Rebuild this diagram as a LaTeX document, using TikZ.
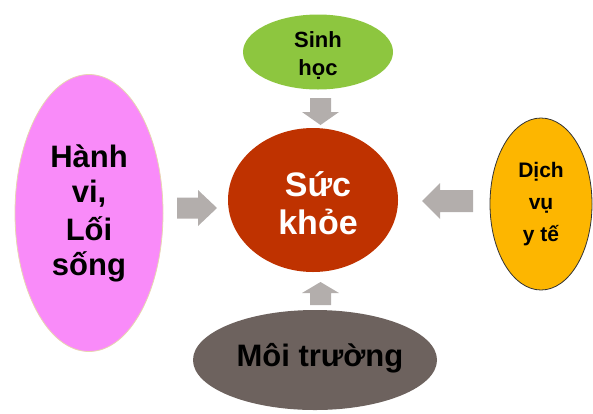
\documentclass[tikz,border=0pt]{standalone}
\usepackage{fontspec}
\setmainfont{Liberation Sans}
\usetikzlibrary{shapes.geometric}
\definecolor{redc}{HTML}{BF3200}
\definecolor{greenc}{HTML}{8DC63F}
\definecolor{pinkc}{HTML}{F98BF9}
\definecolor{orangec}{HTML}{FDB600}
\definecolor{brownc}{HTML}{6D625E}
\definecolor{arrowc}{HTML}{B3AEAC}
\definecolor{beige}{HTML}{E8D5B0}
\tikzset{
  ell/.style={ellipse, inner sep=0pt, align=center, font=\bfseries},
  txt/.style={inner sep=0pt, align=center},
  blockarrow/.style={fill=arrowc, draw=none}
}
\begin{document}
\begin{tikzpicture}[x=1pt,y=-1pt]
\useasboundingbox (0,0) rectangle (593,413);
\node[ell, fill=redc, minimum width=170pt, minimum height=144pt] (health) at (313,200) {};
\node[txt, text=white, font=\bfseries\fontsize{34}{38}\selectfont] (healthtxt) at (318,203) {Sức\\khỏe};
\node[ell, fill=greenc, minimum width=150pt, minimum height=75pt] (bio) at (318,52) {};
\node[txt, font=\bfseries\fontsize{22}{28}\selectfont] (biotxt) at (318,55) {Sinh\\học};
\node[ell, fill=pinkc, draw=beige, line width=0.8pt, minimum width=148pt, minimum height=277pt] (life) at (89,213) {};
\node[txt, font=\bfseries\fontsize{31}{35}\selectfont] (lifetxt) at (89,213) {Hành\\vi,\\[3pt]Lối\\sống};
\node[ell, fill=orangec, draw=black!80, line width=0.8pt, minimum width=102pt, minimum height=172pt] (care) at (541,204) {};
\node[txt, font=\bfseries\fontsize{21}{32}\selectfont] (caretxt) at (541,204) {Dịch\\vụ\\y tế};
\node[ell, fill=brownc, minimum width=244pt, minimum height=100pt] (env) at (315,360) {};
\node[txt, font=\bfseries\fontsize{31}{36}\selectfont] (envtxt) at (320,358) {Môi trường};
% block arrows
\fill[blockarrow] (177,197.5) -- (198,197.5) -- (198,190) -- (217,208) -- (198,226) -- (198,218.5) -- (177,218.5) -- cycle;
\fill[blockarrow] (310,98) -- (331,98) -- (331,112) -- (339,112) -- (320.5,125) -- (302,112) -- (310,112) -- cycle;
\fill[blockarrow] (473,190) -- (440,190) -- (440,183) -- (422,201) -- (440,219) -- (440,212) -- (473,212) -- cycle;
\fill[blockarrow] (310,305) -- (331,305) -- (331,293) -- (339,293) -- (320.5,282) -- (302,293) -- (310,293) -- cycle;
\end{tikzpicture}
\end{document}
